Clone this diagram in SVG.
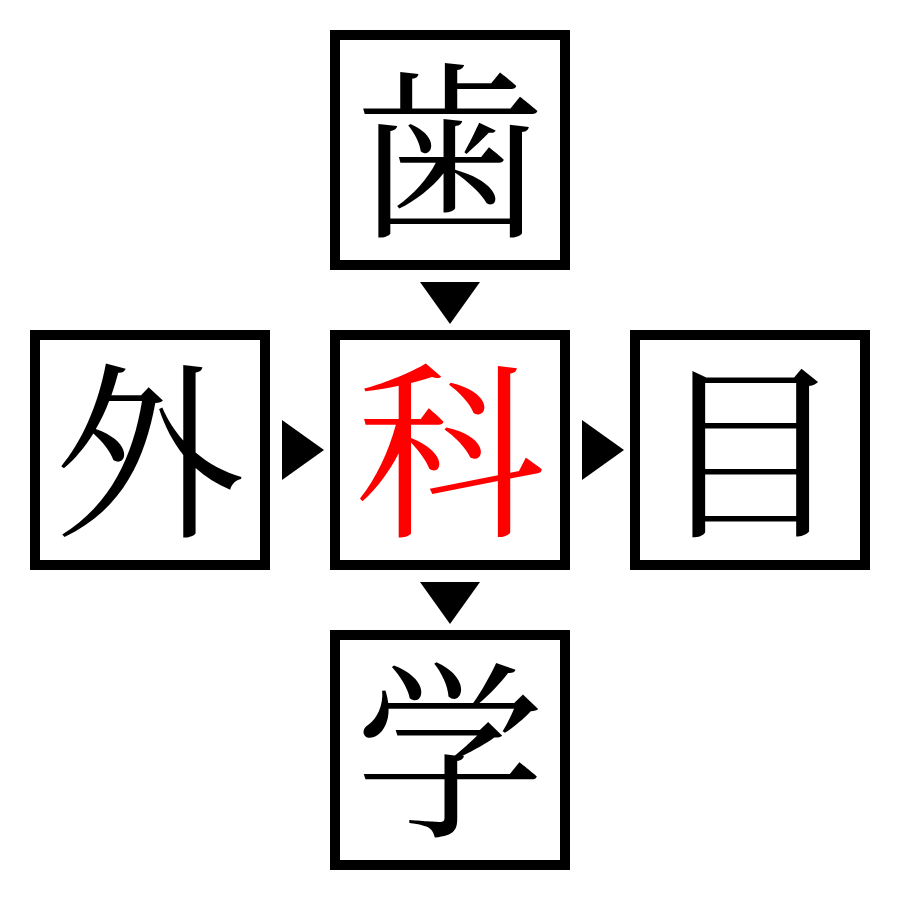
<svg xmlns="http://www.w3.org/2000/svg" width="900" height="900" viewBox="0 0 900 900">
<style>
.box{fill:#fff;stroke:#000;stroke-width:10}
.ch{font-family:"Noto Serif CJK JP","Noto Sans CJK JP",serif;font-size:190px;text-anchor:middle;dominant-baseline:central;fill:#000}
.red{fill:#ff0000}
.arr{fill:#000}
</style>
<rect width="900" height="900" fill="#fff"/>
<g id="connectors">
<polygon class="arr" points="420,282 480,282 450,324"/>
<polygon class="arr" points="420,582 480,582 450,624"/>
<polygon class="arr" points="282,420 282,480 324,450"/>
<polygon class="arr" points="582,420 582,480 624,450"/>
</g>
<g id="node-top"><rect class="box" x="335" y="35" width="230" height="230"/><text class="ch" x="450" y="139">歯</text></g>
<g id="node-left"><rect class="box" x="35" y="335" width="230" height="230"/><text class="ch" x="150" y="439">外</text></g>
<g id="node-center"><rect class="box" x="335" y="335" width="230" height="230"/><text class="ch red" x="450" y="439">科</text></g>
<g id="node-right"><rect class="box" x="635" y="335" width="230" height="230"/><text class="ch" x="750" y="439">目</text></g>
<g id="node-bottom"><rect class="box" x="335" y="635" width="230" height="230"/><text class="ch" x="450" y="739">学</text></g>
</svg>
